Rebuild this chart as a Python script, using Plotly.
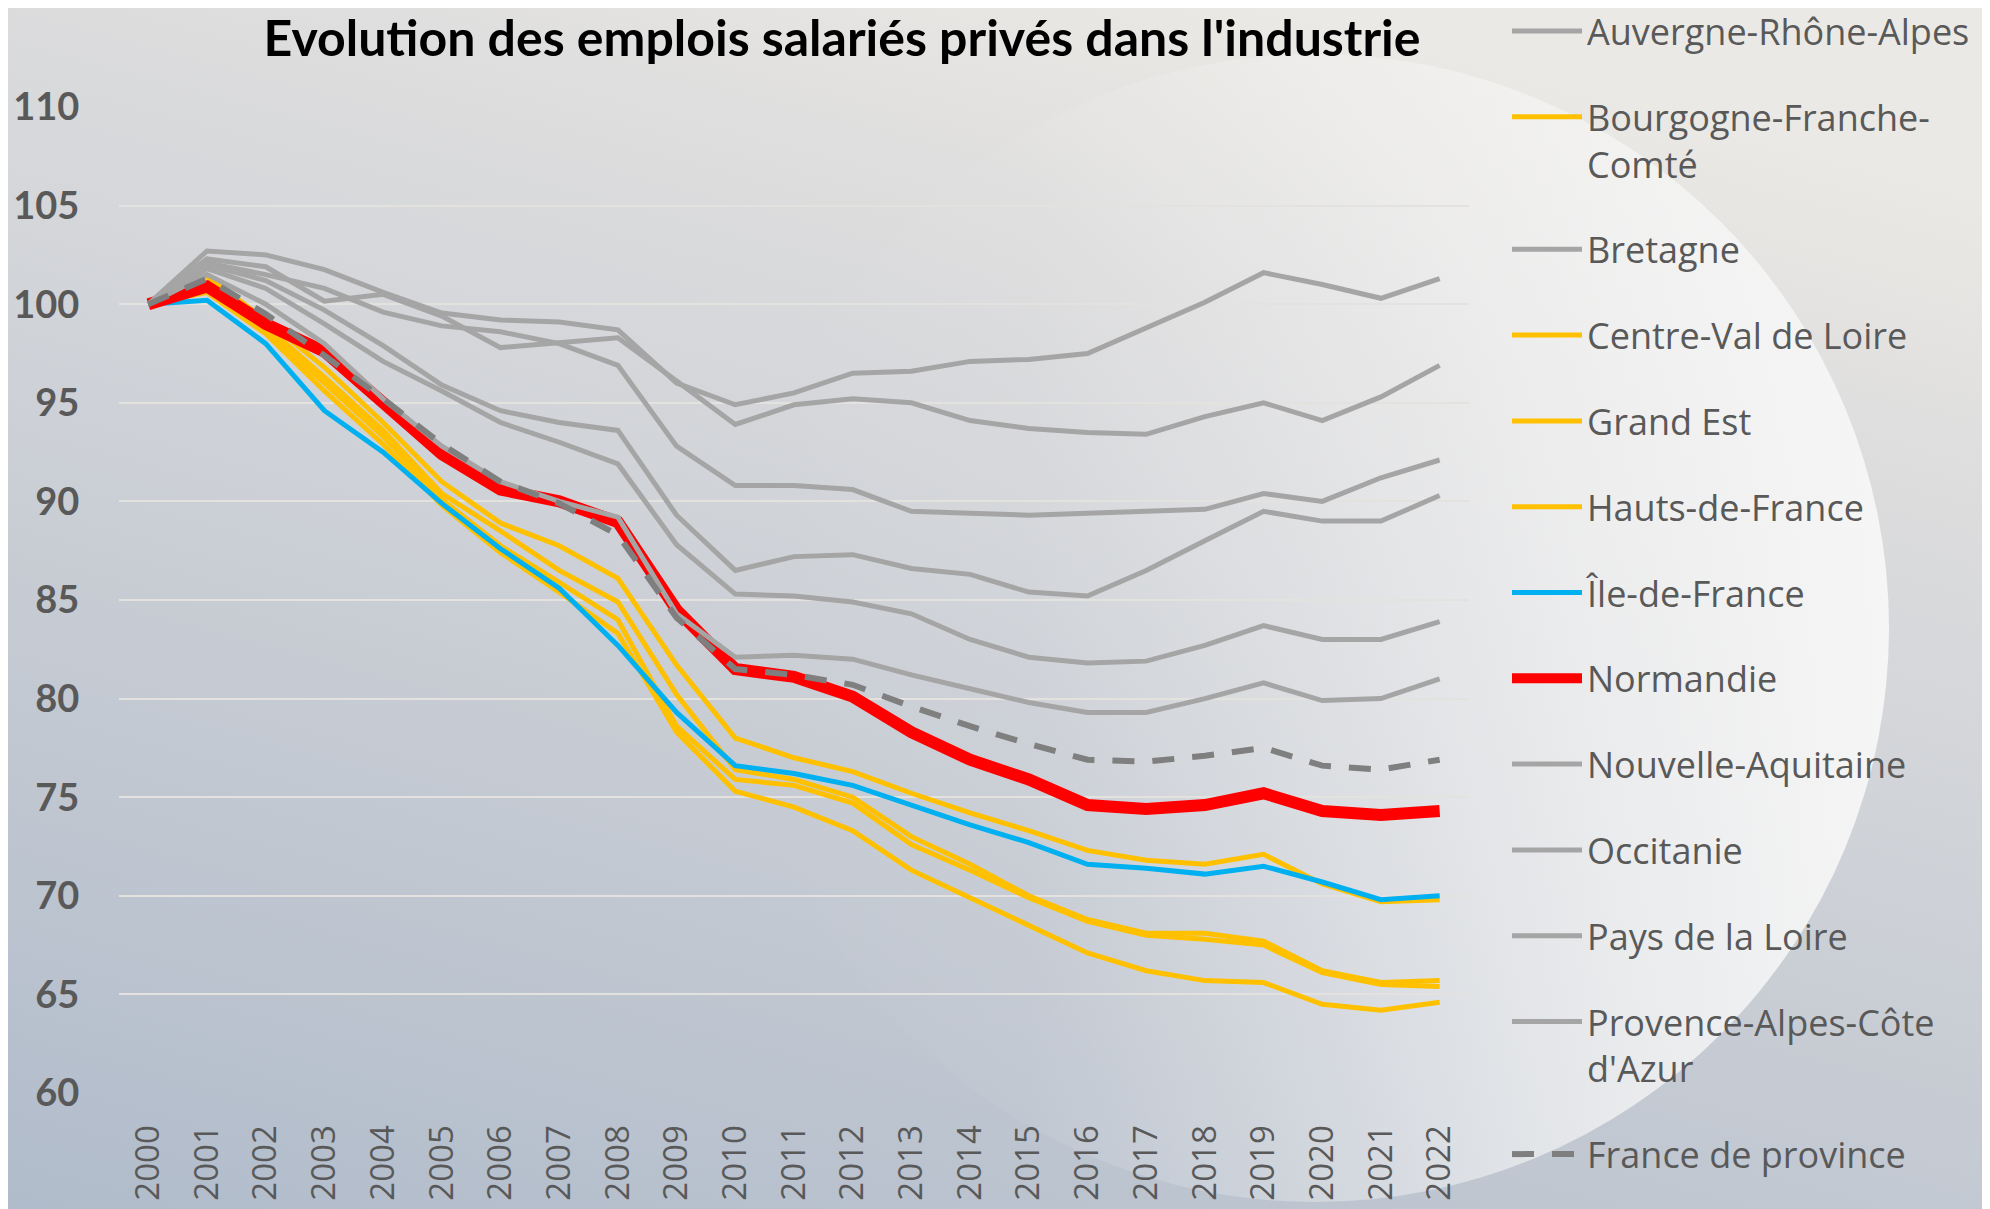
import base64
import plotly.graph_objects as go

# ---------------- data ----------------
years = [str(y) for y in range(2000, 2023)]

auvergne_rhone_alpes = [100, 101.8, 100.8, 99.0, 97.1, 95.6, 94.0, 93.0, 91.9, 87.8, 85.3, 85.2, 84.9, 84.3, 83.0, 82.1, 81.8, 81.9, 82.7, 83.7, 83.0, 83.0, 83.9]
bourgogne_franche_comte = [100, 100.8, 98.7, 96.0, 93.3, 90.1, 87.75, 85.9, 84.0, 78.6, 75.9, 75.6, 74.7, 72.6, 71.3, 69.9, 68.7, 68.0, 67.8, 67.5, 66.1, 65.5, 65.4]
bretagne = [100, 102.1, 101.5, 100.8, 99.6, 98.9, 98.6, 98.0, 96.9, 92.8, 90.8, 90.8, 90.6, 89.5, 89.4, 89.3, 89.4, 89.5, 89.6, 90.4, 90.0, 91.2, 92.1]
centre_val_de_loire = [100, 100.6, 98.5, 95.6, 92.9, 89.8, 87.4, 85.4, 83.3, 78.3, 75.3, 74.5, 73.3, 71.3, 69.9, 68.5, 67.1, 66.2, 65.7, 65.6, 64.5, 64.2, 64.6]
grand_est = [100, 101.0, 98.9, 96.3, 93.6, 90.4, 88.5, 86.5, 84.9, 80.2, 76.4, 75.9, 75.0, 73.0, 71.6, 70.0, 68.8, 68.1, 68.1, 67.7, 66.2, 65.6, 65.7]
hauts_de_france = [100, 101.4, 99.2, 96.8, 94.0, 91.0, 88.9, 87.75, 86.1, 81.7, 78.0, 77.0, 76.3, 75.2, 74.2, 73.3, 72.3, 71.8, 71.6, 72.1, 70.6, 69.7, 69.8]
ile_de_france = [100, 100.2, 98.0, 94.6, 92.5, 89.9, 87.6, 85.6, 82.7, 79.3, 76.6, 76.2, 75.6, 74.6, 73.6, 72.7, 71.6, 71.4, 71.1, 71.5, 70.7, 69.8, 70.0]
normandie = [100, 100.9, 99.0, 97.6, 95.0, 92.4, 90.6, 90.0, 88.95, 84.5, 81.5, 81.1, 80.1, 78.3, 76.9, 75.9, 74.6, 74.4, 74.6, 75.2, 74.3, 74.1, 74.3]
nouvelle_aquitaine = [100, 102.0, 101.2, 99.7, 97.9, 95.9, 94.6, 94.0, 93.6, 89.3, 86.5, 87.2, 87.3, 86.6, 86.3, 85.4, 85.2, 86.5, 88.0, 89.5, 89.0, 89.0, 90.3]
occitanie = [100, 102.7, 102.5, 101.75, 100.6, 99.55, 99.2, 99.1, 98.7, 96.0, 94.9, 95.5, 96.5, 96.6, 97.1, 97.2, 97.5, 98.8, 100.1, 101.6, 101.0, 100.3, 101.3]
pays_de_la_loire = [100, 102.3, 101.9, 100.15, 100.5, 99.4, 97.8, 98.05, 98.3, 96.1, 93.9, 94.9, 95.2, 95.0, 94.1, 93.7, 93.5, 93.4, 94.3, 95.0, 94.1, 95.3, 96.9]
provence_alpes_cote_azur = [100, 101.5, 100.0, 98.0, 95.2, 92.8, 91.0, 90.0, 89.2, 84.3, 82.1, 82.2, 82.0, 81.2, 80.5, 79.8, 79.3, 79.3, 80.0, 80.8, 79.9, 80.0, 81.0]
france_de_province = [100, 101.3, 99.5, 97.4, 95.2, 92.9, 91.0, 89.9, 88.3, 84.1, 81.5, 81.2, 80.7, 79.6, 78.6, 77.7, 76.9, 76.8, 77.1, 77.5, 76.6, 76.4, 76.9]

y_ticks = [60, 65, 70, 75, 80, 85, 90, 95, 100, 105, 110]

# ---------------- styles ----------------
GRAY, YELLOW, BLUE, RED, DASH = "#a5a5a5", "#ffc000", "#00b0f0", "#ff0000", "#7f7f7f"
series = [
    ("Auvergne-Rhône-Alpes", auvergne_rhone_alpes, GRAY, 5, "solid"),
    ("Bourgogne-Franche-<br>Comté", bourgogne_franche_comte, YELLOW, 5, "solid"),
    ("Bretagne", bretagne, GRAY, 5, "solid"),
    ("Centre-Val de Loire", centre_val_de_loire, YELLOW, 5, "solid"),
    ("Grand Est", grand_est, YELLOW, 5, "solid"),
    ("Hauts-de-France", hauts_de_france, YELLOW, 5, "solid"),
    ("Île-de-France", ile_de_france, BLUE, 5, "solid"),
    ("Normandie", normandie, RED, 12, "solid"),
    ("Nouvelle-Aquitaine", nouvelle_aquitaine, GRAY, 5, "solid"),
    ("Occitanie", occitanie, GRAY, 5, "solid"),
    ("Pays de la Loire", pays_de_la_loire, GRAY, 5, "solid"),
    ("Provence-Alpes-Côte<br>d'Azur", provence_alpes_cote_azur, GRAY, 5, "solid"),
    ("France de province", france_de_province, DASH, 6, "22px,18px"),
]

fig = go.Figure()
for i, (name, vals, col, w, dash) in enumerate(series):
    fig.add_trace(go.Scatter(
        x=years, y=vals, name=name, mode="lines",
        line=dict(color=col, width=w, dash=dash),
        legendgroup=f"g{i}",
    ))

# ---------------- background (gradient + glow) ----------------
W, H = 1990, 1209
svg = f"""<svg xmlns='http://www.w3.org/2000/svg' width='{W}' height='{H}' viewBox='0 0 {W} {H}' preserveAspectRatio='none'>
<defs>
<linearGradient id='bg' gradientUnits='userSpaceOnUse' x1='500' y1='1400' x2='900' y2='-100'>
<stop offset='0' stop-color='#aebaca'/>
<stop offset='0.37' stop-color='#c3c9d2'/>
<stop offset='0.8' stop-color='#dcdcdd'/>
<stop offset='1' stop-color='#ebe9e5'/>
</linearGradient>
<linearGradient id='glow' gradientUnits='userSpaceOnUse' x1='733' y1='0' x2='1881' y2='0'>
<stop offset='0' stop-color='#f6f6f6' stop-opacity='0'/>
<stop offset='0.25' stop-color='#f6f6f6' stop-opacity='0.05'/>
<stop offset='0.5' stop-color='#f6f6f6' stop-opacity='0.35'/>
<stop offset='0.76' stop-color='#f6f6f6' stop-opacity='0.72'/>
<stop offset='1' stop-color='#f7f7f7' stop-opacity='0.95'/>
</linearGradient>
</defs>
<rect width='{W}' height='{H}' fill='url(#bg)'/>
<circle cx='1307' cy='620' r='574' fill='url(#glow)'/>
</svg>"""
src = "data:image/svg+xml;base64," + base64.b64encode(svg.encode("utf-8")).decode("ascii")

ML, MR, MT, MB = 111, 529, 99, 124
PW, PH = W - ML - MR, H - MT - MB

fig.add_layout_image(dict(
    source=src, xref="paper", yref="paper",
    x=-ML / PW, y=1 + MT / PH, sizex=W / PW, sizey=H / PH,
    xanchor="left", yanchor="top", sizing="stretch", layer="below",
))

legend_cfg = dict(
    x=(1499 - ML) / PW, xanchor="left",
    y=1 + (MT + 7) / PH, yanchor="top",
    bgcolor="rgba(0,0,0,0)", borderwidth=0,
    font=dict(family="Open Sans", size=36, color="#595959"),
    tracegroupgap=36, itemwidth=70, valign="top",
    traceorder="grouped",
)

fig.update_layout(
    width=W, height=H,
    margin=dict(l=ML, r=MR, t=MT, b=MB, autoexpand=False),
    paper_bgcolor="#d4d7dc",
    plot_bgcolor="rgba(0,0,0,0)",
    title=dict(
        text="Evolution des emplois salariés privés dans l'industrie",
        font=dict(family="Lato", size=50, color="#000000", weight="bold"),
        x=834 / W, xref="container", xanchor="center",
        y=1 - 30 / H, yref="container", yanchor="middle",
    ),
    showlegend=True,
    legend=legend_cfg,
    xaxis=dict(
        type="category", range=[-0.5, 22.5],
        showgrid=False, zeroline=False, showline=False,
        tickangle=-90, ticks="outside", ticklen=18, tickcolor="rgba(0,0,0,0)",
        tickfont=dict(family="Open Sans", size=33, color="#595959"),
        automargin=False, fixedrange=True,
    ),
    yaxis=dict(
        range=[60, 110], tickvals=y_ticks,
        showgrid=True, gridcolor="#e4e2de", gridwidth=2,
        zeroline=False, showline=False,
        ticks="outside", ticklen=31, tickcolor="rgba(0,0,0,0)",
        tickfont=dict(family="Lato", size=38, color="#595959", weight="bold"),
        automargin=False, fixedrange=True,
    ),
)

try:
    fig.update_layout(legend_maxheight=1300)
except ValueError:
    pass

fig.write_html("out.html")
